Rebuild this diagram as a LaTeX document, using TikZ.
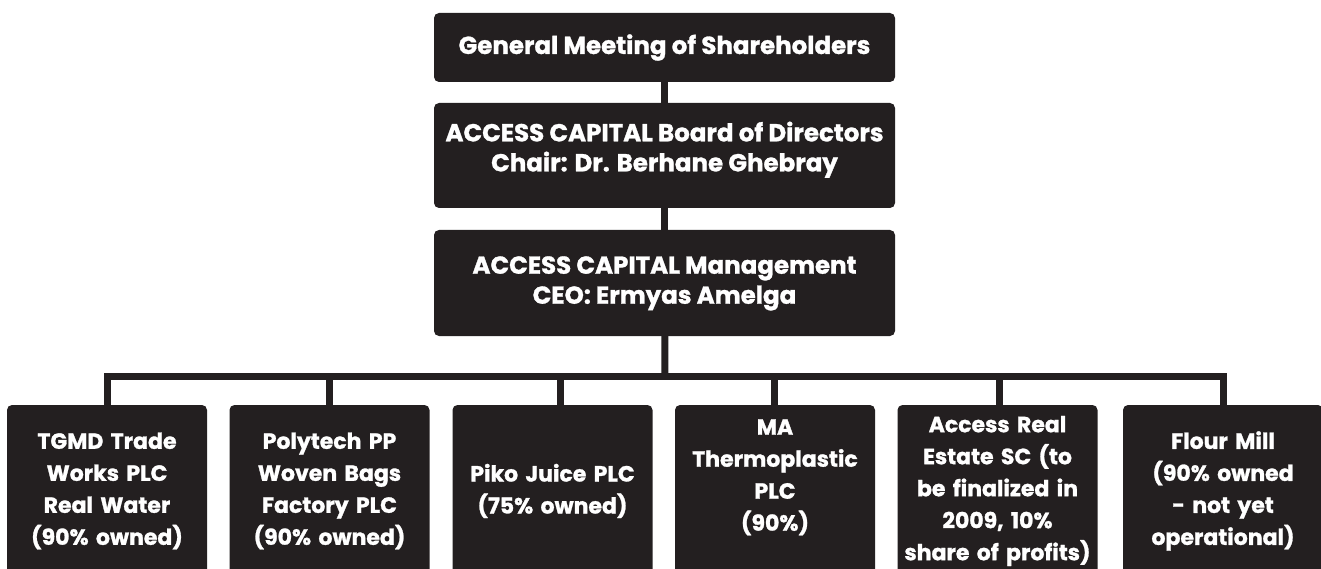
\documentclass[tikz,border=0pt]{standalone}
\usepackage{fontspec}
\setmainfont{Poppins}[BoldFeatures={FakeBold=1.2}]
\usetikzlibrary{shapes}
\definecolor{chartink}{HTML}{231F20}
\tikzstyle{bx}=[rectangle,rounded corners=5pt,fill=chartink,text=white,font=\fontsize{24.5}{30}\selectfont\bfseries,align=center,inner sep=0pt]
\tikzstyle{top}=[bx,minimum width=461pt]
\tikzstyle{sub}=[bx,minimum width=200pt,minimum height=172pt,text width=196pt,font=\fontsize{22}{32}\selectfont\bfseries]
\tikzstyle{ln}=[draw=chartink,line width=7pt,line join=miter]

\begin{document}
\begin{tikzpicture}[x=1pt,y=-1pt]
\useasboundingbox (0,0) rectangle (1321,569);
\clip (0,0) rectangle (1321,569);
\node[top,minimum height=69pt] (gm) at (664.5,47.5) {General Meeting of Shareholders};
\node[top,minimum height=105pt] (bd) at (664.5,155.5) {ACCESS CAPITAL Board of Directors\\Chair: Dr. Berhane Ghebray\\[-12pt]\mbox{}};
\node[top,minimum height=106pt] (mg) at (664.5,283) {ACCESS CAPITAL Management\\CEO: Ermyas Amelga\\[-24pt]\mbox{}};
\node[sub] (tgmd) at (107,491) {TGMD Trade\\Works PLC\\Real Water\\(90\% owned)};
\node[sub] (poly) at (329.5,491) {Polytech PP\\Woven Bags\\Factory PLC\\(90\% owned)};
\node[sub] (piko) at (552.5,491) {Piko Juice PLC\\(75\% owned)};
\node[sub] (ma) at (775,491) {MA\\Thermoplastic\\PLC\\(90\%)\\\mbox{}};
\node[sub] (are) at (997.5,491) {Access Real\\Estate SC (to\\be finalized in\\2009, 10\%\\share of profits)};
\node[sub] (flour) at (1223,491) {Flour Mill\\(90\% owned\\- not yet\\operational)};
\coordinate (bus) at (665,376);
\draw[ln] (gm) -- (bd);
\draw[ln] (bd) -- (mg);
\draw[ln] (mg) -- (bus);
\draw[ln] (tgmd.north) |- (bus) -| (flour.north);
\draw[ln] (poly.north) -- (poly.north |- bus);
\draw[ln] ([xshift=7.5pt]piko.north) -- ([xshift=7.5pt]piko.north |- bus);
\draw[ln] ([xshift=-1pt]ma.north) -- ([xshift=-1pt]ma.north |- bus);
\draw[ln] ([xshift=1.5pt]are.north) -- ([xshift=1.5pt]are.north |- bus);
\end{tikzpicture}
\end{document}
